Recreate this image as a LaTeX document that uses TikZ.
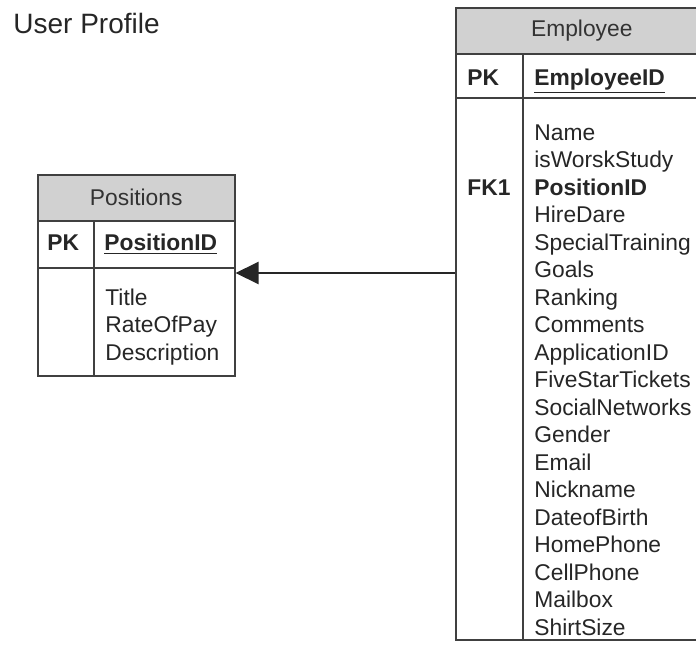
\documentclass[tikz,border=0pt]{standalone}
\usepackage{fontspec}
\setmainfont{Liberation Sans}
\usetikzlibrary{arrows.meta}

\begin{document}
\begin{tikzpicture}[x=0.5pt, y=-0.5pt,
    box/.style={draw=black!75, line width=0.75pt, inner sep=0pt, anchor=north west},
    head/.style={box, fill=black!18, font=\fontsize{11.4}{13.75}\selectfont, text=black!80},
    field/.style={anchor=base west, inner sep=0pt, font=\fontsize{11.4}{13.75}\selectfont, text=black!85},
    key/.style={field, font=\fontsize{11.4}{13.75}\selectfont\bfseries},
    divider/.style={draw=black!75, line width=0.75pt},
    fkarrow/.style={-{Triangle[length=11.5pt,width=11pt]}, line width=1pt, black!85}
]
\useasboundingbox (0,0) rectangle (696,649);
\node[field, font=\fontsize{14}{16}\selectfont] (title) at (13,33) {User Profile};

% Positions table
\node[head, minimum width=98.5pt, minimum height=23pt] (pos-head) at (37,174) {Positions};
\node[box, minimum width=98.5pt, minimum height=23.5pt] (pos-pk) at (37,220) {};
\node[box, minimum width=98.5pt, minimum height=54pt] (pos-body) at (37,267) {};
\coordinate (pos-div) at (94,220);
\draw[divider] (pos-div) -- (pos-div |- pos-body.south);
\node[key] (pos-pklabel) at (47,250) {PK};
\node[key] (pos-id) at (104,250) {\underline{PositionID}};
\foreach \f [count=\i] in {Title,RateOfPay,Description}
    \node[field] (pos-f\i) at (105,{277.5+27.5*\i}) {\f};

% Employee table
\node[head, minimum width=126pt, minimum height=23pt] (emp-head) at (455,7) {Employee};
\node[box, minimum width=126pt, minimum height=22pt] (emp-pk) at (455,53) {};
\node[box, minimum width=126pt, minimum height=271pt] (emp-body) at (455,97) {};
\coordinate (emp-div) at (523,53);
\draw[divider] (emp-div) -- (emp-div |- emp-body.south);
\node[key] (emp-pklabel) at (467,85) {PK};
\node[key] (emp-id) at (534,85) {\underline{EmployeeID}};
\node[key] (emp-fklabel) at (467,195) {FK1};
\foreach \f [count=\i] in {Name,isWorskStudy,\textbf{PositionID},HireDare,SpecialTraining,Goals,Ranking,Comments,ApplicationID,FiveStarTickets,SocialNetworks,Gender,Email,Nickname,DateofBirth,HomePhone,CellPhone,Mailbox,ShirtSize}
    \node[field] (emp-f\i) at (534,{112.5+27.5*\i}) {\f};

% foreign key
\coordinate (fk) at (455,273);
\draw[fkarrow] (fk) -- (fk -| pos-body.east);
\end{tikzpicture}
\end{document}
